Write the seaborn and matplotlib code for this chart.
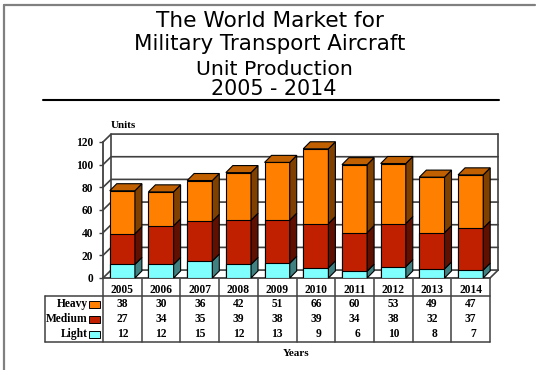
import numpy as np
import pandas as pd
import matplotlib
matplotlib.use("Agg")
import matplotlib.pyplot as plt
from matplotlib.patches import Polygon, Rectangle
from matplotlib.lines import Line2D
from matplotlib.transforms import blended_transform_factory
import seaborn as sns

# ---- data -------------------------------------------------------------
years = ["2005", "2006", "2007", "2008", "2009", "2010", "2011", "2012", "2013", "2014"]
heavy = [38, 30, 36, 42, 51, 66, 60, 53, 49, 47]
medium = [27, 34, 35, 39, 38, 39, 34, 38, 32, 37]
light = [12, 12, 15, 12, 13, 9, 6, 10, 8, 7]
series_names = ["Heavy", "Medium", "Light"]
y_ticks = [0, 20, 40, 60, 80, 100, 120]
title_lines = ["The World Market for", "Military Transport Aircraft",
               "Unit Production", "2005 - 2014"]

# ---- styling ------------------------------------------------------------
front_colors = {"Heavy": "#FF8000", "Medium": "#C02000", "Light": "#80FFFF"}
side_colors = {"Heavy": "#804000", "Medium": "#601000", "Light": "#408080"}
top_color = "#C06000"
grid_color = "#404040"

sns.set_theme(style="white")
plt.rcParams["font.family"] = ["Liberation Serif", "DejaVu Serif"]
plt.rcParams["text.color"] = "black"
plt.rcParams["ytick.color"] = "black"
plt.rcParams["xtick.color"] = "black"

W, H = 536, 370
fig = plt.figure(figsize=(W / 100, H / 100), dpi=100)
fig.patch.set_facecolor("white")

# overlay in pixel units for frame, titles and table
bg = fig.add_axes([0, 0, 1, 1])
bg.set_xlim(0, W)
bg.set_ylim(H, 0)
bg.axis("off")

ax = fig.add_axes([103 / W, 92 / H, 387 / W, 136 / H])
ax.patch.set_visible(False)

# ---- stacked bars (front faces) ----------------------------------------
df = pd.DataFrame({"Year": years, "Heavy": heavy, "Medium": medium, "Light": light})
df["top_light"] = df["Light"]
df["top_medium"] = df["Light"] + df["Medium"]
df["top_heavy"] = df["top_medium"] + df["Heavy"]

BAR_W = 0.65
for name, col in [("Heavy", "top_heavy"), ("Medium", "top_medium"), ("Light", "top_light")]:
    sns.barplot(data=df, x="Year", y=col, order=years, color=front_colors[name],
                saturation=1, width=BAR_W, errorbar=None, edgecolor="black",
                linewidth=0.8, ax=ax, zorder=3)

ax.set_xlim(-0.5, len(years) - 0.5)
ax.set_ylim(0, 120)
ax.set_xlabel("")
ax.set_ylabel("")

# depth of the back wall and of the bars, in data units
DX, DY = 0.21, 7.0
BDX, BDY = 0.18, 6.2

# back wall, side wall and floor outlines
x0, x1 = -0.5, len(years) - 0.5
for t in y_ticks:
    ax.add_line(Line2D([x0, x0 + DX, x1 + DX], [t, t + DY, t + DY],
                       color=grid_color, lw=1.2, clip_on=False, zorder=0.5))
for xe in (x0 + DX, x1 + DX):
    ax.add_line(Line2D([xe, xe], [DY, 120 + DY], color=grid_color, lw=1.2,
                       clip_on=False, zorder=0.5))
ax.add_line(Line2D([x1, x1 + DX], [0, DY], color=grid_color, lw=1.2,
                   clip_on=False, zorder=0.5))

# side and top faces of each bar
for i in range(len(years)):
    xl, xr = i - BAR_W / 2, i + BAR_W / 2
    bounds = [("Light", 0, df["top_light"][i]),
              ("Medium", df["top_light"][i], df["top_medium"][i]),
              ("Heavy", df["top_medium"][i], df["top_heavy"][i])]
    for name, lo, hi in bounds:
        ax.add_patch(Polygon([(xr, lo), (xr + BDX, lo + BDY), (xr + BDX, hi + BDY), (xr, hi)],
                             closed=True, facecolor=side_colors[name], edgecolor="black",
                             lw=0.8, zorder=3, clip_on=False))
    top = df["top_heavy"][i]
    ax.add_patch(Polygon([(xl, top), (xl + BDX, top + BDY), (xr + BDX, top + BDY), (xr, top)],
                         closed=True, facecolor=top_color, edgecolor="black",
                         lw=0.8, zorder=3, clip_on=False))

# axes
ax.set_xticks([])
ax.set_yticks(y_ticks)
ax.set_yticklabels([str(t) for t in y_ticks], fontweight="bold", fontsize=8.3,
                   color="black")
ax.tick_params(axis="y", left=True, length=3, width=1, color=grid_color, pad=4)
for side in ("top", "right"):
    ax.spines[side].set_visible(False)
for side in ("left", "bottom"):
    ax.spines[side].set_color(grid_color)
    ax.spines[side].set_linewidth(1.3)

bg.text(111, 126, "Units", fontsize=8, fontweight="bold", ha="left", va="center")

# ---- frame and titles ------------------------------------------------
bg.add_line(Line2D([4, 4], [5, H], color="#808080", lw=1.6))
bg.add_line(Line2D([4, W - 1], [5, 5], color="#808080", lw=1.6))
title_pos = [(270, 27, 15.6), (270, 50, 15.4), (274, 75, 14.7), (274, 95, 14.9)]
for txt, (tx, ty, fs) in zip(title_lines, title_pos):
    bg.text(tx, ty, txt, fontsize=fs, ha="center", va="baseline",
            family=["DejaVu Sans"], color="black")
bg.add_line(Line2D([43, 499], [99.5, 99.5], color="black", lw=1.5))

# ---- data table -------------------------------------------------------
tr = blended_transform_factory(ax.transData, bg.transData)
right_px = ax.transData.transform((x1, 0))[0]
line_kw = dict(color=grid_color, lw=1.1)

for i in range(len(years) + 1):
    bg.add_line(Line2D([i - 0.5, i - 0.5], [279, 342], transform=tr, **line_kw))
bg.add_line(Line2D([45, right_px], [296, 296], **line_kw))
bg.add_line(Line2D([45, right_px], [342, 342], **line_kw))
bg.add_line(Line2D([45, 45], [296, 342], **line_kw))

for i, yr in enumerate(years):
    bg.text(i, 290, yr, transform=tr, ha="center", va="center",
            fontsize=8.3, fontweight="bold")

row_y = [304, 319, 334]
row_vals = [heavy, medium, light]
for name, ry, vals in zip(series_names, row_y, row_vals):
    bg.text(88, ry, name, ha="right", va="center", fontsize=8.3, fontweight="bold")
    bg.add_patch(Rectangle((89, ry - 3.5), 11, 7, facecolor=front_colors[name],
                           edgecolor="black", lw=0.7))
    for i, v in enumerate(vals):
        bg.text(i + 0.15, ry, str(v), transform=tr, ha="right", va="center",
                fontsize=8.3, fontweight="bold")

bg.text(len(years) / 2 - 0.5, 353, "Years", transform=tr, ha="center", va="center",
        fontsize=8, fontweight="bold")

fig.savefig("out.png", dpi=100, facecolor="white")
